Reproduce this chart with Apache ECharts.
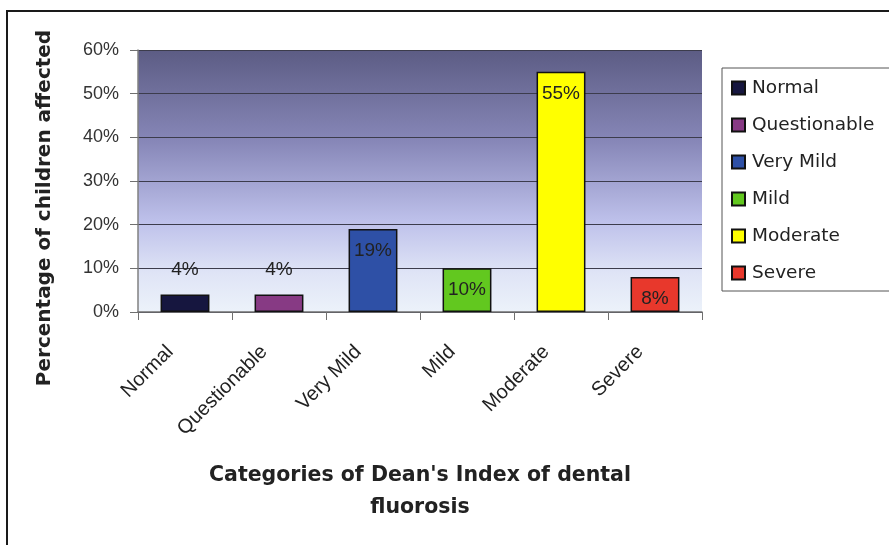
<!DOCTYPE html>
<html>
<head>
<meta charset="utf-8">
<script src="https://cdn.jsdelivr.net/npm/echarts@6/dist/echarts.min.js"></script>
<style>
  html, body { margin: 0; padding: 0; background: #fff; }
  #main { width: 889px; height: 545px; }
</style>
</head>
<body>
<div id="main"></div>
<script>
// data
var categories = ['Normal', 'Questionable', 'Very Mild', 'Mild', 'Moderate', 'Severe'];
var values = [4, 4, 19, 10, 55, 8];
var colors = ['#16163f', '#873a84', '#2e50a6', '#62c81f', '#ffff00', '#e8382c'];
var yTicks = [0, 10, 20, 30, 40, 50, 60];

var font = 'Liberation Sans, Arial, sans-serif';
var wideFont = 'DejaVu Sans, Verdana, sans-serif';
var myChart = echarts.init(document.getElementById('main'));

// one series per category so the legend lists every bar
var series = [];
categories.forEach(function (name, i) {
  var data = categories.map(function (c, j) {
    if (j !== i) return null;
    var small = values[j] < 5;
    return {
      value: values[j],
      label: small
        ? { position: 'top', distance: 15 }
        : { position: 'insideTop', distance: 12 }
    };
  });
  series.push({
    name: name,
    type: 'bar',
    stack: 'all',
    barWidth: '52%',
    data: data,
    itemStyle: { color: colors[i], borderColor: '#111', borderWidth: 1.5 },
    label: {
      show: true,
      formatter: '{c}%',
      fontFamily: font,
      fontSize: 19,
      color: '#222'
    }
  });
});

var option = {
  animation: false,
  textStyle: { fontFamily: font },
  grid: {
    left: 138, right: 187, top: 50, bottom: 233,
    show: true,
    borderWidth: 0,
    backgroundColor: new echarts.graphic.LinearGradient(0, 0, 0, 1, [
      { offset: 0, color: '#5c5c84' },
      { offset: 0.35, color: '#8787b8' },
      { offset: 0.65, color: '#bdc0ea' },
      { offset: 0.85, color: '#dfe4f6' },
      { offset: 1, color: '#ecf2fa' }
    ])
  },
  legend: {
    orient: 'vertical',
    left: 726,
    top: 73,
    itemWidth: 13,
    itemHeight: 13,
    itemGap: 17,
    icon: 'rect',
    data: categories,
    textStyle: { fontFamily: wideFont, fontSize: 18.5, color: '#222', lineHeight: 20, padding: [0, 0, 0, 2] }
  },
  xAxis: {
    type: 'category',
    data: categories,
    axisLine: { lineStyle: { color: '#707070', width: 1.5 } },
    axisTick: { show: true, length: 8, lineStyle: { color: '#707070' } },
    axisLabel: {
      rotate: 45,
      margin: 22,
      padding: [0, 21, 0, 0],
      fontFamily: font,
      fontSize: 20,
      color: '#222'
    },
    name: "Categories of Dean's Index of dental\nfluorosis",
    nameLocation: 'middle',
    nameGap: 148,
    nameTextStyle: {
      fontFamily: wideFont,
      fontSize: 20.5,
      fontWeight: 'bold',
      color: '#222',
      lineHeight: 32
    }
  },
  yAxis: {
    type: 'value',
    min: yTicks[0],
    max: yTicks[yTicks.length - 1],
    interval: 10,
    axisLine: { show: true, lineStyle: { color: '#808080', width: 1.5 } },
    axisTick: { show: true, length: 8, lineStyle: { color: '#707070' } },
    splitLine: { lineStyle: { color: '#3c3c4c', width: 1 } },
    axisLabel: {
      formatter: '{value}%',
      margin: 19,
      fontFamily: font,
      fontSize: 18,
      color: '#333'
    },
    name: 'Percentage of children affected',
    nameLocation: 'middle',
    nameRotate: 90,
    nameGap: 83,
    nameTextStyle: {
      fontFamily: wideFont,
      fontSize: 20,
      fontWeight: 'bold',
      color: '#222',
      padding: [0, 54, 0, 0]
    }
  },
  graphic: [
    {
      type: 'rect',
      shape: { x: 7, y: 11, width: 900, height: 600 },
      style: { fill: null, stroke: '#1a1a1a', lineWidth: 2 },
      silent: true
    },
    {
      type: 'rect',
      shape: { x: 722, y: 68, width: 200, height: 223 },
      style: { fill: null, stroke: '#555', lineWidth: 1 },
      silent: true
    }
  ],
  series: series
};

myChart.setOption(option);
</script>
</body>
</html>
